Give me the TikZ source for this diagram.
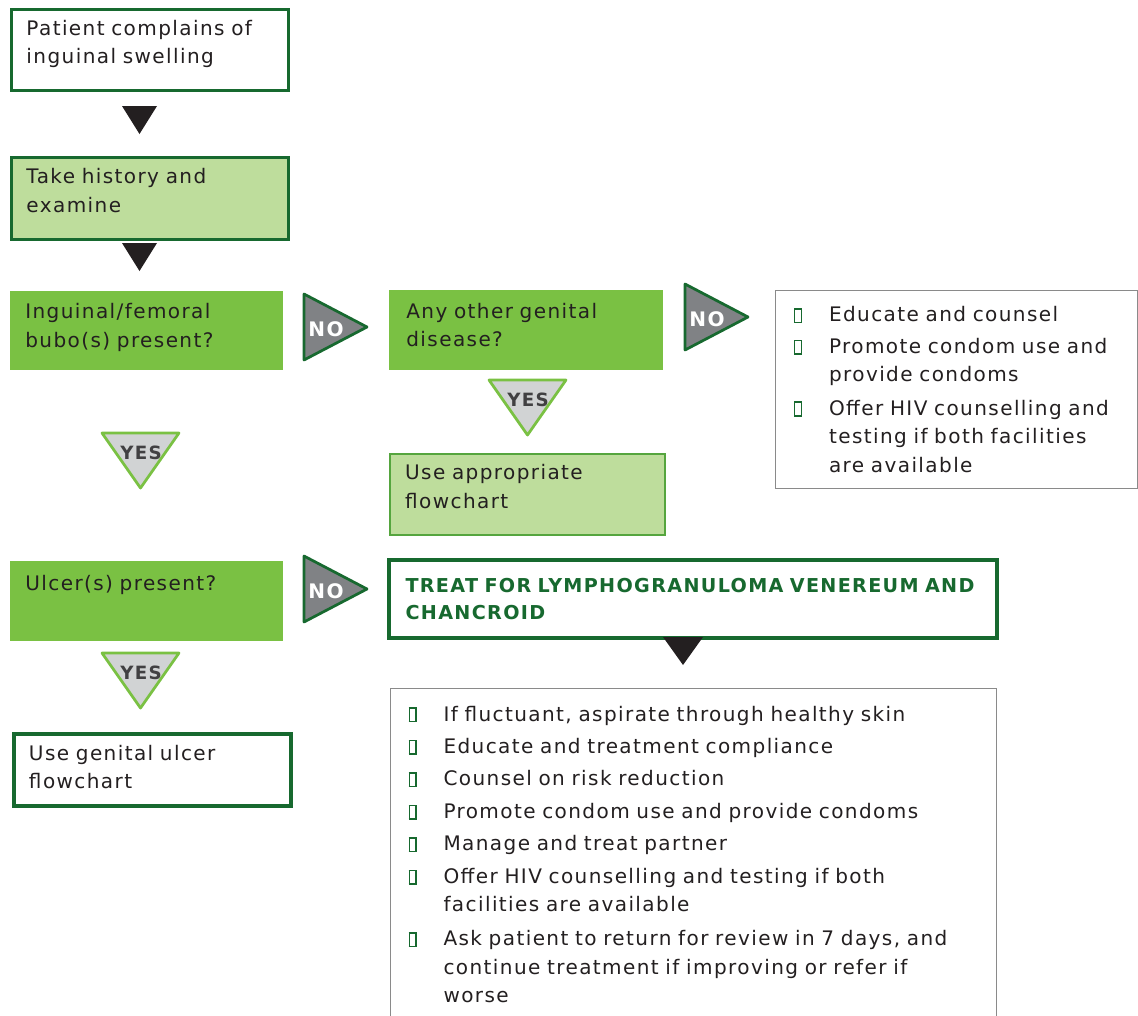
\documentclass[tikz,border=0pt]{standalone}
\usepackage{fontspec}
\setmainfont{DejaVu Sans}[LetterSpace=7]
\usepackage{tikz}
\usetikzlibrary{positioning}

\definecolor{dkgreen}{HTML}{17692F}
\definecolor{midgreen}{HTML}{7AC143}
\definecolor{ltgreen}{HTML}{BEDD9C}
\definecolor{edgegreen}{HTML}{55A53E}
\definecolor{nogrey}{HTML}{808285}
\definecolor{yesgrey}{HTML}{D1D3D4}
\definecolor{txt}{HTML}{231F20}
\definecolor{yestxt}{HTML}{414042}
\definecolor{boxgrey}{HTML}{8A8A8A}

\newcommand\mainf{\fontsize{11.4pt}{16.2pt}\selectfont}
\newcommand\bul{\textcolor{dkgreen}{\fboxrule=0.8pt\fboxsep=0pt\fbox{\rule{0pt}{7pt}\rule{3pt}{0pt}}}}
\newcommand\itm[1]{\par\noindent\makebox[0.7cm][l]{\bul}\begin{tabular}[t]{@{}l@{}}#1\end{tabular}}

\tikzset{
  box/.style={rectangle, anchor=north west, align=left, inner xsep=0.3cm, inner ysep=0pt, text depth=0.9cm, font=\mainf, text=txt},
  wbox/.style={box, draw=dkgreen, fill=white, line width=0.06cm},
  hbox/.style={box, draw=dkgreen, fill=ltgreen, line width=0.06cm},
  qbox/.style={box, fill=midgreen},
  listbox/.style={box, draw=boxgrey, line width=0.6pt, inner xsep=0.34cm, inner ysep=0pt},
  arrowtri/.style={fill=txt},
  notri/.style={fill=nogrey, draw=dkgreen, line width=0.055cm, line join=round},
  yestri/.style={fill=yesgrey, draw=midgreen, line width=0.055cm, line join=round},
  notext/.style={font=\fontsize{11.4pt}{12pt}\selectfont\bfseries, text=white, inner sep=0pt},
  yestext/.style={font=\fontsize{10.4pt}{12pt}\selectfont\bfseries, text=yestxt, inner sep=0pt}
}

\begin{document}
\begin{tikzpicture}[x=0.02cm, y=-0.02cm]
    \useasboundingbox (0,0) rectangle (1138,1015);

    % Left column
    \node[wbox, minimum width=5.54cm, minimum height=1.62cm, text width=4.94cm] (start) at (10,8)
        {Patient complains of\\inguinal swelling};
    \node[hbox, minimum width=5.54cm, minimum height=1.64cm, text width=4.94cm] (history) at (10,156)
        {Take history and\\examine};
    \node[qbox, minimum width=5.46cm, minimum height=1.58cm, text width=4.86cm, text depth=0.78cm] (bubo) at (10,291)
        {Inguinal/femoral\\bubo(s) present?};
    \node[qbox, minimum width=5.46cm, minimum height=1.60cm, text width=4.86cm, text depth=0.72cm] (ulcer) at (10,561)
        {Ulcer(s) present?\\\mbox{}};
    \node[wbox, line width=0.08cm, minimum width=5.54cm, minimum height=1.44cm, text width=4.94cm, text depth=0.7cm] (ulcerchart) at (12,732)
        {Use genital ulcer\\flowchart};

    % Middle column
    \node[qbox, minimum width=5.48cm, minimum height=1.60cm, text width=4.80cm, inner xsep=0.34cm, text depth=0.78cm] (other) at (389,290)
        {Any other genital\\disease?};
    \node[hbox, draw=edgegreen, line width=0.045cm, minimum width=5.50cm, minimum height=1.62cm, text width=4.90cm] (approp) at (389,453)
        {Use appropriate\\flowchart};
    \node[wbox, line width=0.08cm, minimum width=12.16cm, minimum height=1.56cm, text width=11.5cm, inner xsep=0.33cm,
          text depth=, text=dkgreen, font=\fontsize{10.9pt}{15.6pt}\selectfont\bfseries] (treat) at (387,558)
        {TREAT FOR LYMPHOGRANULOMA VENEREUM AND\\CHANCROID};

    % Advice boxes
    \node[listbox, minimum width=7.24cm, text width=6.5cm, text depth=3.96cm] (advice) at (775,290)
        {\setlength{\parskip}{0.06cm}%
         \itm{Educate and counsel}
         \itm{Promote condom use and\\provide condoms}
         \itm{Offer HIV counselling and\\testing if both facilities\\are available}};
    \node[listbox, minimum width=12.12cm, text width=11.4cm, text depth=7cm] (manage) at (390,688)
        {\setlength{\parskip}{0.08cm}%
         \itm{If fluctuant, aspirate through healthy skin}
         \itm{Educate and treatment compliance}
         \itm{Counsel on risk reduction}
         \itm{Promote condom use and provide condoms}
         \itm{Manage and treat partner}
         \itm{Offer HIV counselling and testing if both\\facilities are available}
         \itm{Ask patient to return for review in 7 days, and\\continue treatment if improving or refer if\\worse}};

    % Black arrows
    \foreach \x/\y/\w in {122/106/35, 122/243/35, 663/637/40}
        \fill[arrowtri] (\x,\y) -- ++(\w,0) -- ++({-\w/2},28) -- cycle;

    % NO markers
    \foreach \x/\y [count=\i] in {304/294, 685/284, 304/556} {
        \draw[notri] (\x,\y) -- ++(63,33) -- ++(-63,33) -- cycle;
        \node[notext] (no\i) at ({\x+22},{\y+35}) {NO};
    }

    % YES markers
    \foreach \x/\y [count=\i] in {102/433, 489/380, 102/653} {
        \draw[yestri] (\x,\y) -- ++(77,0) -- ++(-38.5,55) -- cycle;
        \node[yestext] (yes\i) at ({\x+39},{\y+20}) {YES};
    }
\end{tikzpicture}
\end{document}
